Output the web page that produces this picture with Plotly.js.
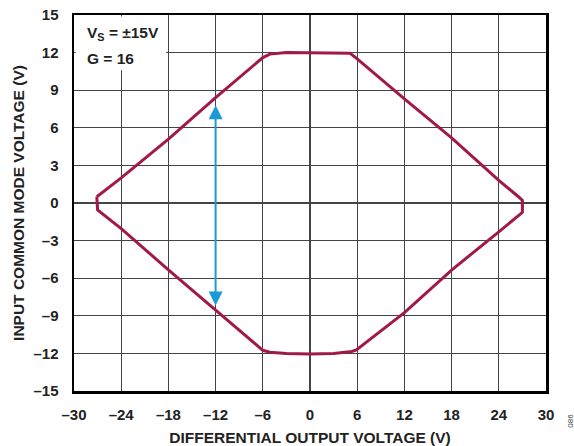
<!DOCTYPE html>
<html>
<head>
<meta charset="utf-8">
<script src="https://cdn.plot.ly/plotly-3.0.1.min.js"></script>
<style>html,body{margin:0;padding:0;background:#fff;}#chart{width:574px;height:446px;}</style>
</head>
<body>
<div id="chart"></div>
<script>
// Common-mode range boundary (V)
const boundaryX = [-27.1, -24.0, -18.0, -12.0, -6.0, -5.1, -3.0, 0.0, 3.0, 5.1, 6.0, 12.0, 18.0, 24.0, 26.5, 27.0,
                   27.0, 25.4, 24.0, 18.0, 12.0, 5.9, 5.3, 3.0, 0.0, -3.0, -5.1, -6.0, -12.0, -18.0, -24.0, -27.0, -27.1];
const boundaryY = [0.5, 2.0, 5.1, 8.4, 11.6, 11.88, 12.0, 12.0, 12.0, 11.95, 11.5, 8.3, 5.2, 1.8, 0.5, 0.2,
                   -0.75, -1.55, -2.3, -5.35, -8.75, -11.72, -11.85, -12.0, -12.05, -12.0, -11.9, -11.75, -8.55, -5.33, -2.05, -0.55, 0.5];
// Double-headed arrow (x, y top, y bottom)
const arrowX = -12;
const arrowTop = 7.8;
const arrowBottom = -8.3;
const xTicks = [-30, -24, -18, -12, -6, 0, 6, 12, 18, 24, 30];
const yTicks = [-15, -12, -9, -6, -3, 0, 3, 6, 9, 12, 15];
const legendLines = ['V<sub>S</sub> = ±15V', 'G = 16'];

const FONT = 'Liberation Sans, Arial, Helvetica, sans-serif';
const curveColor = '#a1194b';
const arrowColor = '#1a9bd6';

const data = [{
  x: boundaryX, y: boundaryY, type: 'scatter', mode: 'lines',
  line: {color: curveColor, width: 3}, hoverinfo: 'skip'
}];

const axisCommon = {
  showline: true, mirror: true, linecolor: '#000', linewidth: 2.5,
  showgrid: true, gridcolor: '#444', gridwidth: 1.3,
  zeroline: false, ticks: '', tickmode: 'array',
  tickfont: {family: FONT, size: 15, color: '#222', weight: 'bold'}
};

const layout = {
  width: 574, height: 446,
  margin: {l: 74, r: 28, t: 15, b: 55},
  paper_bgcolor: '#fff', plot_bgcolor: '#fff',
  showlegend: false,
  xaxis: Object.assign({}, axisCommon, {
    range: [-30, 30], tickvals: xTicks, ticktext: xTicks.map(v => v < 0 ? '\u2013' + Math.abs(v) : String(v)),
    ticklabelstandoff: 8,
    title: {text: 'DIFFERENTIAL OUTPUT VOLTAGE (V)', font: {family: FONT, size: 15.5, color: '#222', weight: 'bold'}, standoff: 14}
  }),
  yaxis: Object.assign({}, axisCommon, {
    range: [-15, 15], tickvals: yTicks, ticktext: yTicks.map(v => v < 0 ? '\u2013' + Math.abs(v) : String(v)),
    ticklabelstandoff: 10,
    title: {text: 'INPUT COMMON MODE VOLTAGE (V)', font: {family: FONT, size: 15.5, color: '#222', weight: 'bold'}, standoff: 5}
  }),
  shapes: [{
    type: 'rect', xref: 'x', yref: 'y', x0: -29.8, x1: -18.3, y0: 10.6, y1: 14.88,
    fillcolor: '#fff', line: {width: 0}, layer: 'between'
  }],
  annotations: [
    {x: arrowX, y: arrowTop, ax: arrowX, ay: arrowBottom, xref: 'x', yref: 'y', axref: 'x', ayref: 'y',
     text: '', showarrow: true, arrowside: 'end+start', arrowhead: 2, startarrowhead: 2,
     arrowwidth: 2, arrowsize: 1.4, startarrowsize: 1.4, arrowcolor: arrowColor, standoff: 0, startstandoff: 0},
    {x: -28.6, y: 13.5, xref: 'x', yref: 'y', xanchor: 'left', yanchor: 'middle', showarrow: false,
     text: legendLines[0], font: {family: FONT, size: 15.5, color: '#222', weight: 'bold'}},
    {x: -28.6, y: 11.55, xref: 'x', yref: 'y', xanchor: 'left', yanchor: 'middle', showarrow: false,
     text: legendLines[1], font: {family: FONT, size: 15.5, color: '#222', weight: 'bold'}},
    {x: 1.05, y: -0.08, xref: 'paper', yref: 'paper', xanchor: 'center', yanchor: 'middle', showarrow: false,
     textangle: -90, text: '086', font: {family: FONT, size: 8, color: '#444'}}
  ]
};

Plotly.newPlot('chart', data, layout, {staticPlot: true, displayModeBar: false});
</script>
</body>
</html>
